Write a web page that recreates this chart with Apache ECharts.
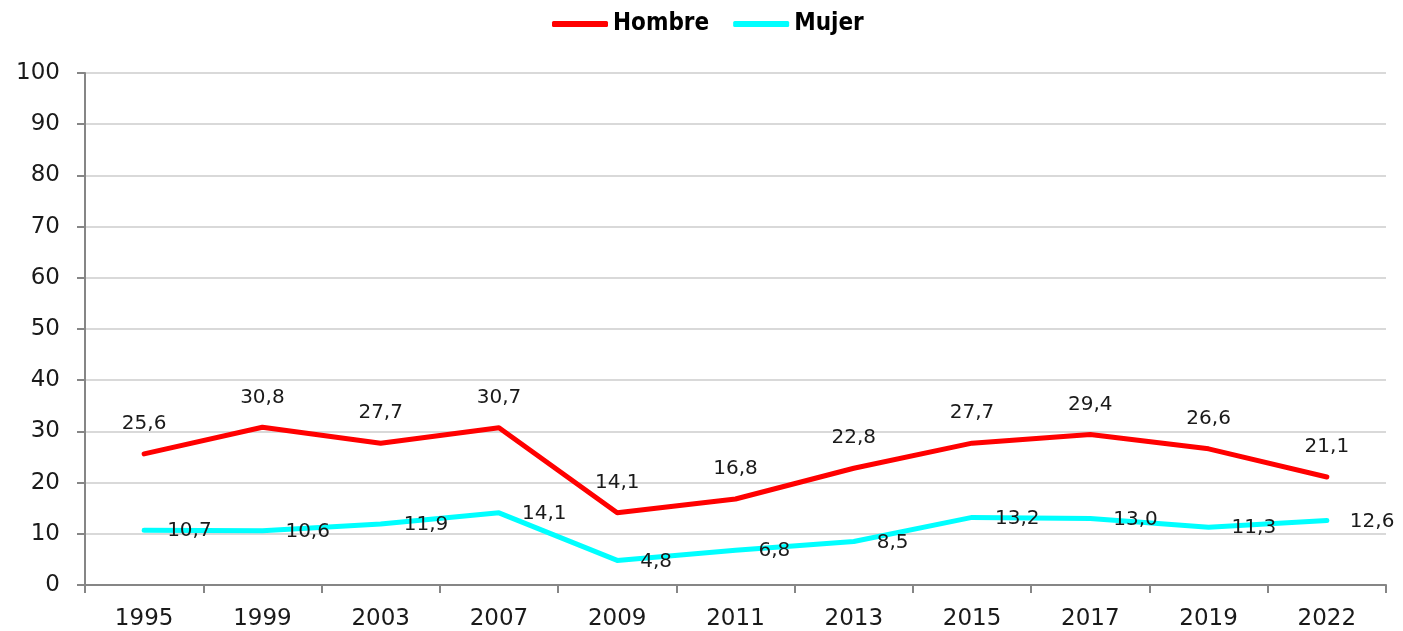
<!DOCTYPE html>
<html>
<head>
<meta charset="utf-8">
<script src="https://cdn.jsdelivr.net/npm/echarts@6/dist/echarts.min.js"></script>
<style>
  html, body { margin: 0; padding: 0; background: #fff; }
  #chart { width: 1403px; height: 631px; }
</style>
</head>
<body>
<div id="chart"></div>
<script>
// data
var years = ['1995', '1999', '2003', '2007', '2009', '2011', '2013', '2015', '2017', '2019', '2022']
var hombre = [25.6, 30.8, 27.7, 30.7, 14.1, 16.8, 22.8, 27.7, 29.4, 26.6, 21.1]
var mujer = [10.7, 10.6, 11.9, 14.1, 4.8, 6.8, 8.5, 13.2, 13.0, 11.3, 12.6]

var chart = echarts.init(document.getElementById('chart'))

function fmt(p) {
  return p.value.toFixed(1).replace('.', ',')
}

chart.setOption({
  animation: false,
  textStyle: { fontFamily: 'DejaVu Sans' },
  legend: {
    top: 7,
    left: 547,
    itemWidth: 56,
    itemHeight: 6,
    itemGap: 24,
    icon: 'roundRect',
    textStyle: {
      fontFamily: 'DejaVu Sans Condensed',
      fontWeight: 'bold',
      fontSize: 24,
      color: '#000'
    },
    data: ['Hombre', 'Mujer']
  },
  grid: {
    left: 85,
    right: 17,
    top: 73,
    bottom: 45
  },
  xAxis: {
    type: 'category',
    data: years,
    boundaryGap: true,
    axisLine: { lineStyle: { color: '#868686', width: 2 } },
    axisTick: { show: true, length: 8, interval: 0, lineStyle: { color: '#868686', width: 2 } },
    axisLabel: { fontSize: 23, color: '#1a1a1a', margin: 23 }
  },
  yAxis: {
    type: 'value',
    min: 0,
    max: 100,
    interval: 10,
    axisLine: { show: true, lineStyle: { color: '#868686', width: 2 } },
    axisTick: { show: true, length: 8, lineStyle: { color: '#868686', width: 2 } },
    axisLabel: { fontSize: 23, color: '#1a1a1a', margin: 25 },
    splitLine: { lineStyle: { color: '#d9d9d9', width: 2 } }
  },
  series: [
    {
      name: 'Hombre',
      type: 'line',
      data: hombre,
      showSymbol: true,
      symbol: 'circle',
      symbolSize: 0,
      color: '#ff0000',
      lineStyle: { width: 5, color: '#ff0000', cap: 'round', join: 'round' },
      label: {
        show: true,
        position: 'top',
        distance: 20,
        fontSize: 20,
        color: '#1a1a1a',
        formatter: fmt
      }
    },
    {
      name: 'Mujer',
      type: 'line',
      data: mujer,
      showSymbol: true,
      symbol: 'circle',
      symbolSize: 0,
      color: '#00ffff',
      lineStyle: { width: 5, color: '#00ffff', cap: 'round', join: 'round' },
      label: {
        show: true,
        position: 'right',
        distance: 23,
        offset: [0, 1],
        fontSize: 20,
        color: '#1a1a1a',
        formatter: fmt
      }
    }
  ]
})
</script>
</body>
</html>
